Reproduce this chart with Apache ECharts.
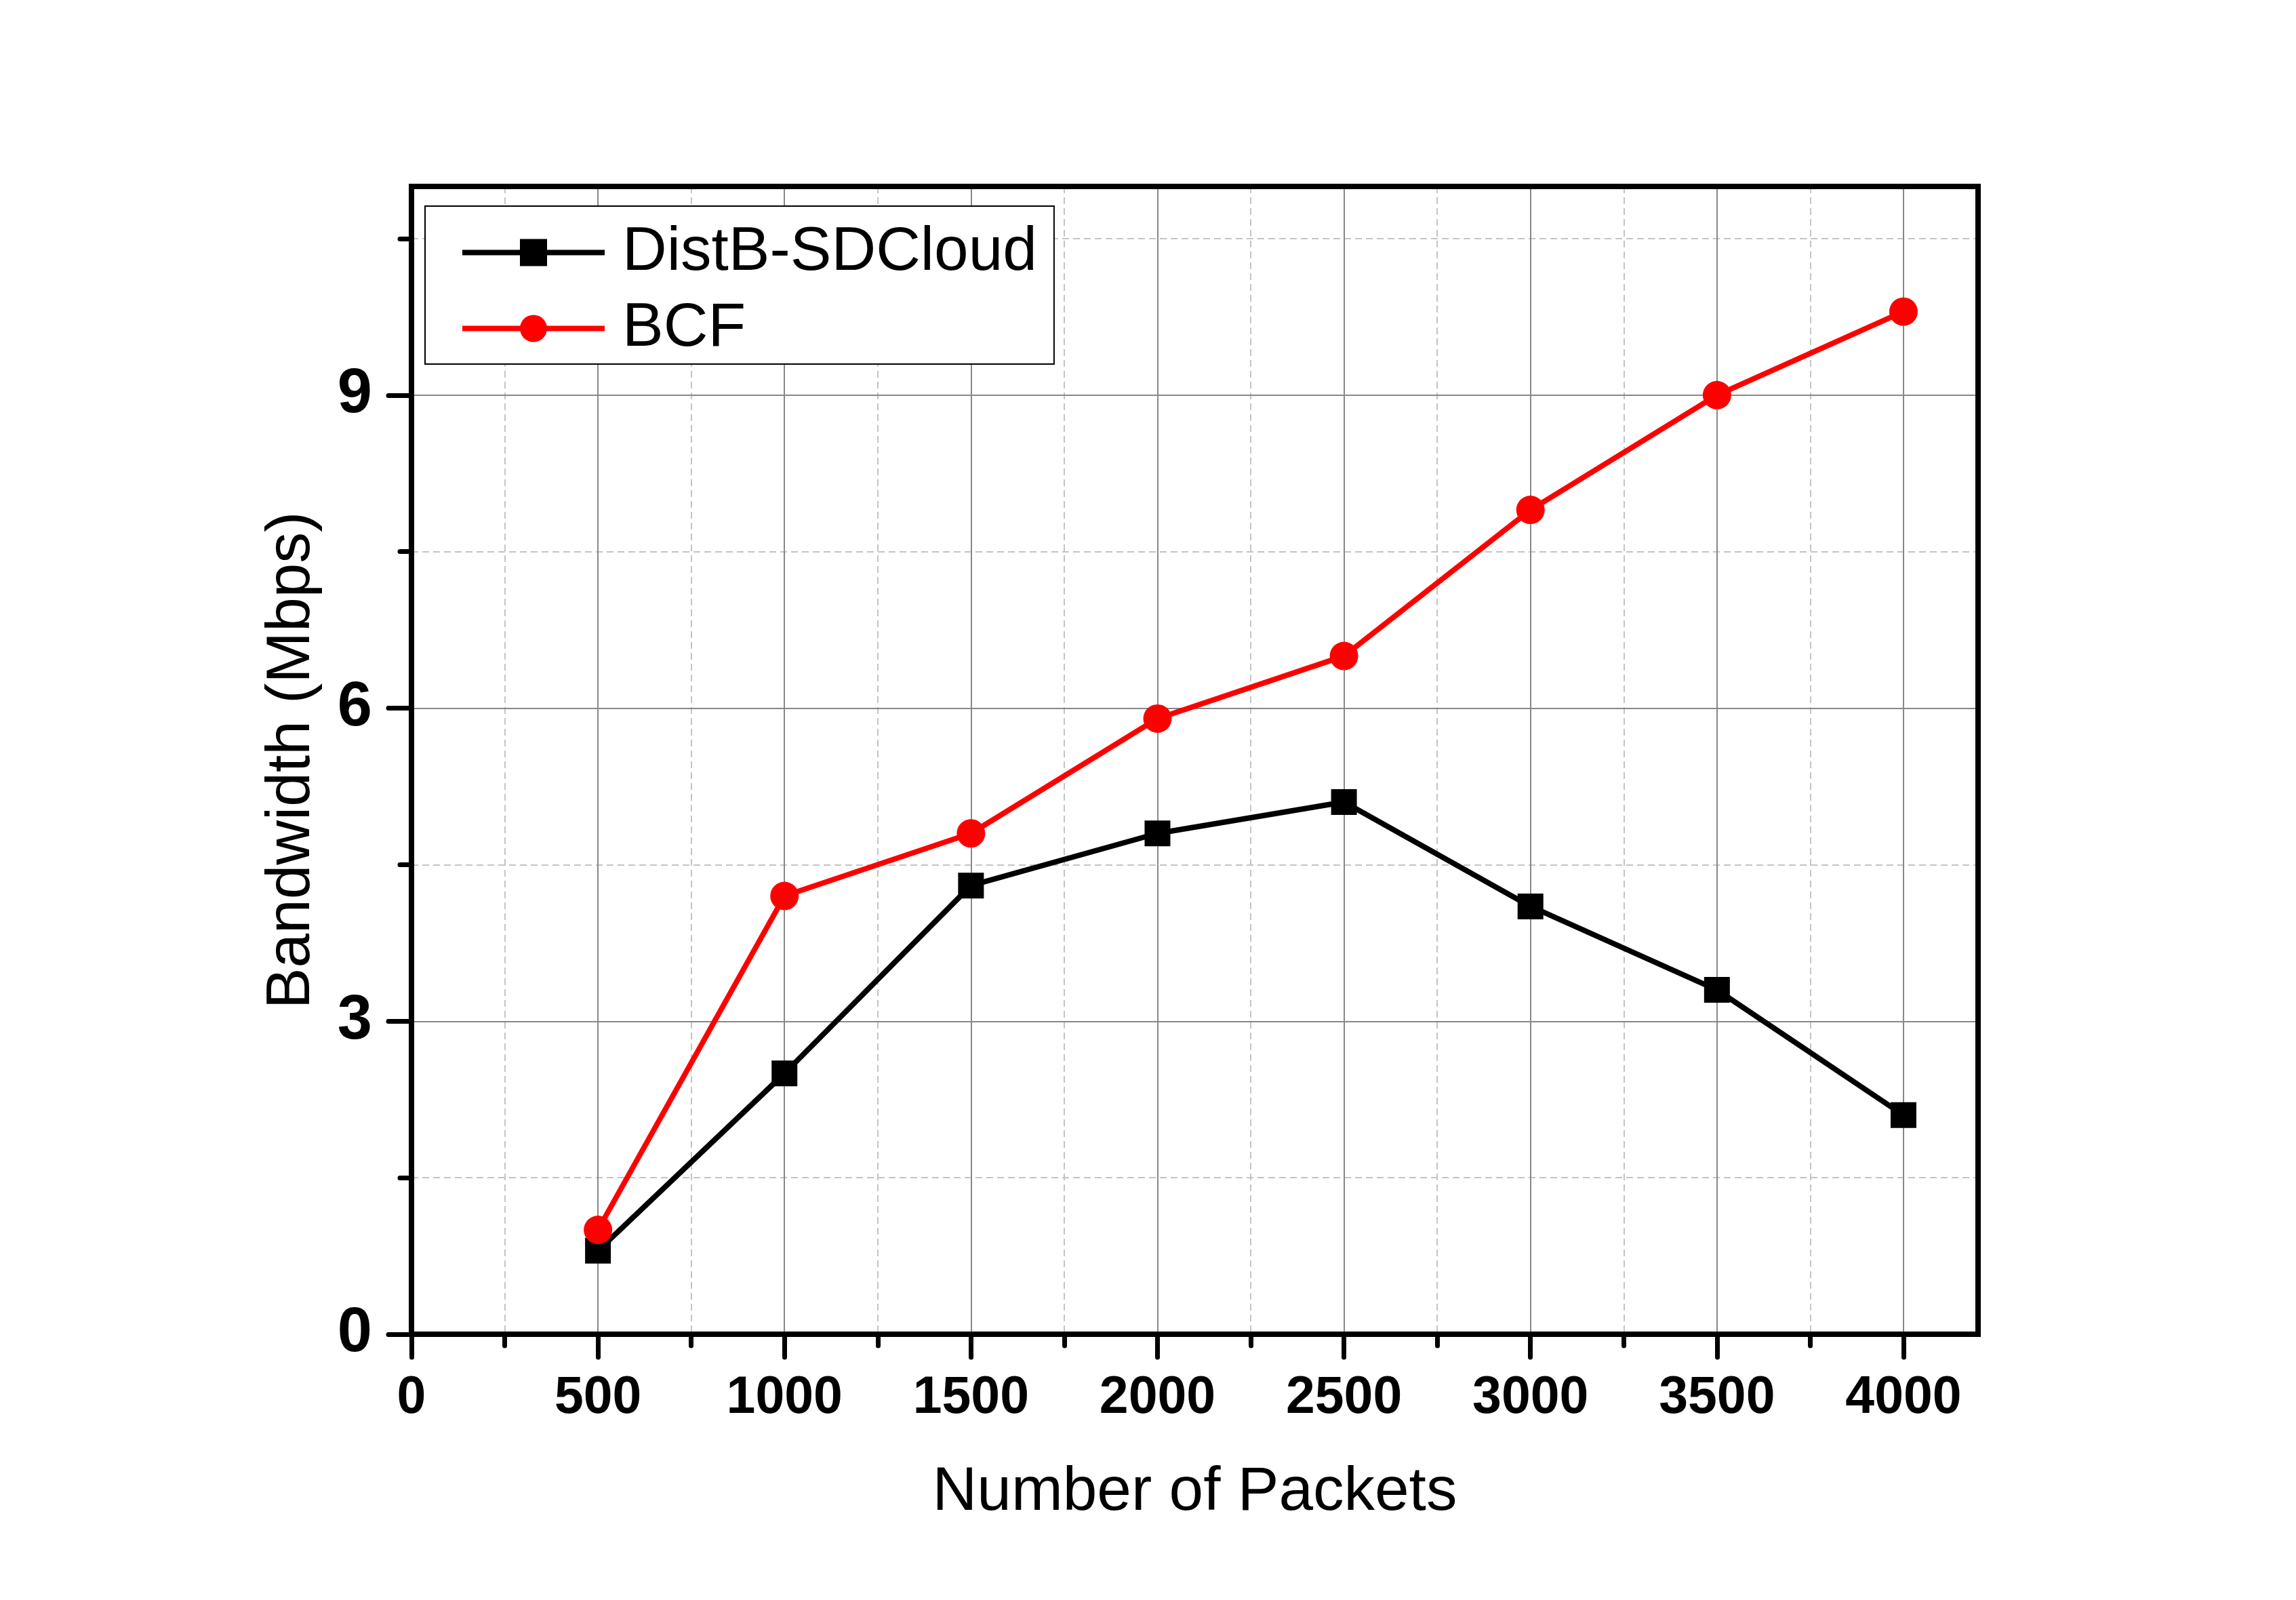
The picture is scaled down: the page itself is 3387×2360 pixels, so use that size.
<!DOCTYPE html>
<html>
<head>
<meta charset="utf-8">
<script src="https://cdn.jsdelivr.net/npm/echarts@6/dist/echarts.min.js"></script>
<style>
html,body{margin:0;padding:0;background:#fff;}
#chart{width:3387px;height:2360px;}
</style>
</head>
<body>
<div id="chart"></div>
<script>
// ---- data ----
const packets = [500, 1000, 1500, 2000, 2500, 3000, 3500, 4000];
const distbSDCloud = [0.8, 2.5, 4.3, 4.8, 5.1, 4.1, 3.3, 2.1];
const bcf = [1.0, 4.2, 4.8, 5.9, 6.5, 7.9, 9.0, 9.8];
const xMajorTicks = [0, 500, 1000, 1500, 2000, 2500, 3000, 3500, 4000];
const xMinorTicks = [250, 750, 1250, 1750, 2250, 2750, 3250, 3750];
const yMajorTicks = [0, 3, 6, 9];
const yMinorTicks = [1.5, 4.5, 7.5, 10.5];
const seriesNames = ['DistB-SDCloud', 'BCF'];
const xName = 'Number of Packets';
const yName = 'Bandwidth (Mbps)';

const FONT = 'Liberation Sans, Arial, Helvetica, sans-serif';
const X_MIN = 0, X_MAX = 4200, Y_MIN = 0, Y_MAX = 11;

const chart = echarts.init(document.getElementById('chart'), null, {renderer: 'canvas'});

const borderLine = {show: true, onZero: false, lineStyle: {color: '#000', width: 8, cap: 'square'}};
const majorGrid = {show: true, lineStyle: {color: '#888888', width: 2, type: 'solid'}};
const minorGrid = {show: true, lineStyle: {color: '#c4c4c4', width: 2, type: [10, 6]}};
const plain = v => String(v);

const option = {
  animation: false,
  backgroundColor: '#ffffff',
  grid: {left: 607, right: 469, top: 275, bottom: 392, containLabel: false},
  legend: {
    orient: 'vertical',
    left: 627, top: 304,
    padding: [23, 25, 7, 51],
    itemGap: 21,
    itemWidth: 210,
    itemHeight: 50,
    borderColor: '#000',
    borderWidth: 2,
    backgroundColor: '#fff',
    data: seriesNames,
    lineStyle: {width: 8},
    textStyle: {fontFamily: FONT, fontSize: 91, color: '#000', lineHeight: 81, padding: [10, 0, 0, 21]}
  },
  xAxis: [
    {
      type: 'value', position: 'bottom', min: X_MIN, max: X_MAX, interval: 500,
      axisLine: borderLine,
      axisTick: {show: true, customValues: xMajorTicks, length: 34, inside: false,
        lineStyle: {color: '#000', width: 7, cap: 'round'}},
      axisLabel: {show: true, customValues: xMajorTicks, margin: 56, formatter: plain,
        fontFamily: FONT, fontSize: 77, fontWeight: 'bold', color: '#000'},
      splitLine: majorGrid,
      name: xName, nameLocation: 'middle', nameGap: 188,
      nameTextStyle: {fontFamily: FONT, fontSize: 91, color: '#000'},
      z: 3
    },
    {
      type: 'value', position: 'bottom', min: X_MIN, max: X_MAX, interval: 250,
      axisLine: {show: false},
      axisTick: {show: true, customValues: xMinorTicks, length: 17, inside: false,
        lineStyle: {color: '#000', width: 7, cap: 'round'}},
      axisLabel: {show: false},
      splitLine: minorGrid,
      z: 2
    },
    {
      type: 'value', position: 'top', min: X_MIN, max: X_MAX,
      axisLine: borderLine,
      axisTick: {show: false}, axisLabel: {show: false}, splitLine: {show: false},
      z: 4
    }
  ],
  yAxis: [
    {
      type: 'value', position: 'left', min: Y_MIN, max: Y_MAX, interval: 3,
      axisLine: borderLine,
      axisTick: {show: true, customValues: yMajorTicks, length: 34, inside: false,
        lineStyle: {color: '#000', width: 7, cap: 'round'}},
      axisLabel: {show: true, customValues: yMajorTicks, margin: 58, formatter: plain,
        fontFamily: FONT, fontSize: 92, fontWeight: 'bold', color: '#000'},
      splitLine: majorGrid,
      name: yName, nameLocation: 'middle', nameGap: 131, nameRotate: 90,
      nameTextStyle: {fontFamily: FONT, fontSize: 91, color: '#000'},
      z: 3
    },
    {
      type: 'value', position: 'left', min: Y_MIN, max: Y_MAX, interval: 1.5,
      axisLine: {show: false},
      axisTick: {show: true, customValues: yMinorTicks, length: 17, inside: false,
        lineStyle: {color: '#000', width: 7, cap: 'round'}},
      axisLabel: {show: false},
      splitLine: minorGrid,
      z: 2
    },
    {
      type: 'value', position: 'right', min: Y_MIN, max: Y_MAX,
      axisLine: borderLine,
      axisTick: {show: false}, axisLabel: {show: false}, splitLine: {show: false},
      z: 4
    }
  ],
  series: [
    {
      name: seriesNames[0], type: 'line', xAxisIndex: 0, yAxisIndex: 0,
      data: packets.map((x, i) => [x, distbSDCloud[i]]),
      symbol: 'rect', symbolSize: 38, showSymbol: true, showAllSymbol: true,
      lineStyle: {color: '#000', width: 8},
      itemStyle: {color: '#000', borderWidth: 0},
      emphasis: {disabled: true}, silent: true, z: 5
    },
    {
      name: seriesNames[1], type: 'line', xAxisIndex: 0, yAxisIndex: 0,
      data: packets.map((x, i) => [x, bcf[i]]),
      symbol: 'circle', symbolSize: 42, showSymbol: true, showAllSymbol: true,
      lineStyle: {color: '#ff0000', width: 8},
      itemStyle: {color: '#ff0000', borderWidth: 0},
      emphasis: {disabled: true}, silent: true, z: 6
    }
  ]
};
chart.setOption(option);
</script>
</body>
</html>
